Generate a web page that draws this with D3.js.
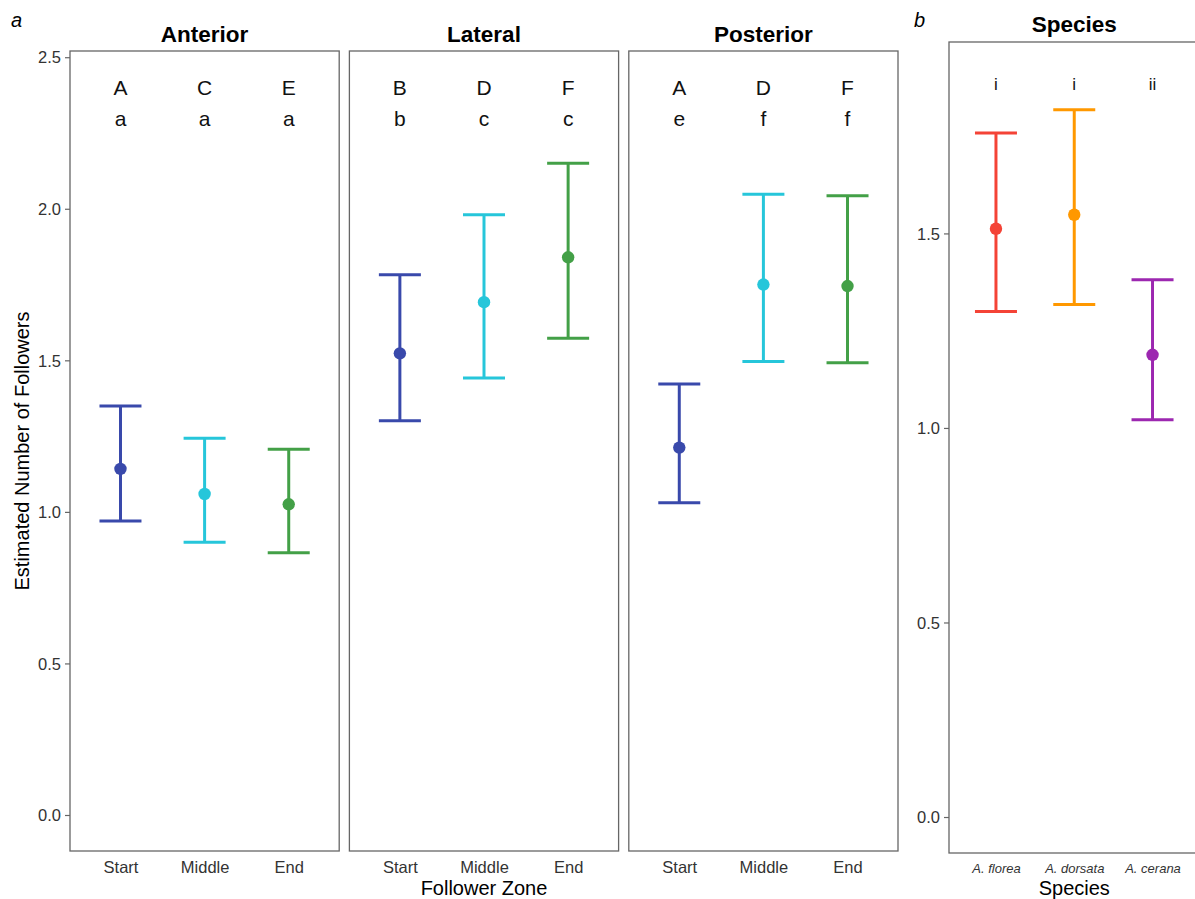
<!DOCTYPE html>
<html><head><meta charset="utf-8">
<script src="https://cdn.jsdelivr.net/npm/d3@7"></script>
<style>body{margin:0;background:#fff;} svg{display:block;font-family:"Liberation Sans",Arial,sans-serif;}</style>
</head><body>
<svg id="chart" width="1195" height="899"></svg>
<script>
// ---- data ----
const regions = ["Anterior", "Lateral", "Posterior"];
const zones = ["Start", "Middle", "End"];
const zoneColors = ["#3949AB", "#26C6DA", "#43A047"];
const estAnterior = [1.142, 1.059, 1.025];
const lowAnterior = [0.970, 0.900, 0.865];
const highAnterior = [1.349, 1.243, 1.207];
const estLateral = [1.523, 1.692, 1.840];
const lowLateral = [1.301, 1.442, 1.573];
const highLateral = [1.782, 1.980, 2.150];
const estPosterior = [1.212, 1.750, 1.745];
const lowPosterior = [1.030, 1.496, 1.492];
const highPosterior = [1.422, 2.048, 2.043];
const upperLetters = [["A","C","E"],["B","D","F"],["A","D","F"]];
const lowerLetters = [["a","a","a"],["b","c","c"],["e","f","f"]];
const yTicksA = [0.0, 0.5, 1.0, 1.5, 2.0, 2.5];

const species = ["A. florea", "A. dorsata", "A. cerana"];
const speciesColors = ["#F44336", "#FF9800", "#9C27B0"];
const estSpecies = [1.512, 1.548, 1.188];
const lowSpecies = [1.299, 1.317, 1.021];
const highSpecies = [1.758, 1.818, 1.381];
const speciesLetters = ["i", "i", "ii"];
const yTicksB = [0.0, 0.5, 1.0, 1.5];

const regionData = [
  {est: estAnterior, low: lowAnterior, high: highAnterior},
  {est: estLateral, low: lowLateral, high: highLateral},
  {est: estPosterior, low: lowPosterior, high: highPosterior}
];

// ---- layout ----
const svg = d3.select("#chart");
const pTop = 51, pBottom = 851;
const panelLeft = 70, panelW = 269.2, gap = 10.2;
const borderCol = "#666";
const tickCol = "#333";

const yA = d3.scaleLinear().domain([-0.1188, 2.5205]).range([pBottom, pTop]);

function drawErrorBar(g, x, y, lo, hi, est, col) {
  const capHalf = 21;
  g.append("line").attr("x1", x).attr("x2", x).attr("y1", y(hi)).attr("y2", y(lo))
    .attr("stroke", col).attr("stroke-width", 3);
  [lo, hi].forEach(v => g.append("line").attr("x1", x - capHalf).attr("x2", x + capHalf)
    .attr("y1", y(v)).attr("y2", y(v)).attr("stroke", col).attr("stroke-width", 3));
  g.append("circle").attr("cx", x).attr("cy", y(est)).attr("r", 6.2).attr("fill", col);
}

regions.forEach((reg, i) => {
  const x0 = panelLeft + i * (panelW + gap), x1 = x0 + panelW;
  const x = d3.scalePoint().domain(zones).range([x0, x1]).padding(0.6);
  const g = svg.append("g");
  g.append("text").attr("x", (x0 + x1) / 2).attr("y", 41.5).attr("text-anchor", "middle")
    .attr("font-size", 22.5).attr("font-weight", "bold").attr("fill", "#000").text(reg);
  zones.forEach((z, j) => {
    g.append("text").attr("x", x(z)).attr("y", yA(2.4) + 7.6).attr("text-anchor", "middle")
      .attr("font-size", 21).attr("fill", "#111").text(upperLetters[i][j]);
    g.append("text").attr("x", x(z)).attr("y", yA(2.3) + 8).attr("text-anchor", "middle")
      .attr("font-size", 21).attr("fill", "#111").text(lowerLetters[i][j]);
  });
  const d = regionData[i];
  zones.forEach((z, j) => drawErrorBar(g, x(z), yA, d.low[j], d.high[j], d.est[j], zoneColors[j]));
  g.append("rect").attr("x", x0).attr("y", pTop).attr("width", panelW).attr("height", pBottom - pTop)
    .attr("fill", "none").attr("stroke", borderCol).attr("stroke-width", 1.3);
  const xa = g.append("g").attr("transform", `translate(0,${pBottom})`)
    .call(d3.axisBottom(x).tickSize(0).tickPadding(10.5));
  xa.select(".domain").remove();
  xa.selectAll("text").attr("font-size", 16.5).attr("fill", tickCol)
    .attr("font-family", "Liberation Sans, Arial, sans-serif");
});

const ya = svg.append("g").attr("transform", `translate(${panelLeft},0)`)
  .call(d3.axisLeft(yA).tickValues(yTicksA).tickFormat(d3.format(".1f")).tickSize(5).tickPadding(4));
ya.select(".domain").remove();
ya.selectAll("line").attr("stroke", borderCol).attr("stroke-width", 1.2);
ya.selectAll("text").attr("font-size", 16.5).attr("fill", tickCol).attr("dy", "0.35em")
  .attr("font-family", "Liberation Sans, Arial, sans-serif");

svg.append("text").attr("transform", `translate(29,451) rotate(-90)`).attr("text-anchor", "middle")
  .attr("font-size", 20).attr("fill", "#000").text("Estimated Number of Followers");
svg.append("text").attr("x", (panelLeft + panelLeft + 3 * panelW + 2 * gap) / 2).attr("y", 895)
  .attr("text-anchor", "middle").attr("font-size", 20).attr("fill", "#000").text("Follower Zone");
svg.append("text").attr("x", 11).attr("y", 27).attr("font-size", 20).attr("font-style", "italic").text("a");

// ---- panel b ----
const bTop = 42, bBottom = 853, bx0 = 949, bx1 = 1199.5;
const yB = d3.scaleLinear().domain([-0.0925, 1.992]).range([bBottom, bTop]);
const xB = d3.scalePoint().domain(species).range([bx0, bx1]).padding(0.6);
const gb = svg.append("g");
gb.append("text").attr("x", (bx0 + bx1) / 2).attr("y", 31.5).attr("text-anchor", "middle")
  .attr("font-size", 22.5).attr("font-weight", "bold").text("Species");
species.forEach((s, j) => {
  gb.append("text").attr("x", xB(s)).attr("y", yB(1.9) + 12).attr("text-anchor", "middle")
    .attr("font-size", 17).attr("fill", "#111").text(speciesLetters[j]);
  drawErrorBar(gb, xB(s), yB, lowSpecies[j], highSpecies[j], estSpecies[j], speciesColors[j]);
});
gb.append("rect").attr("x", bx0).attr("y", bTop).attr("width", bx1 - bx0).attr("height", bBottom - bTop)
  .attr("fill", "none").attr("stroke", borderCol).attr("stroke-width", 1.3);
const xbA = gb.append("g").attr("transform", `translate(0,${bBottom})`)
  .call(d3.axisBottom(xB).tickSize(0).tickPadding(10.5));
xbA.select(".domain").remove();
xbA.selectAll("text").attr("font-size", 13).attr("font-style", "italic").attr("fill", tickCol)
  .attr("font-family", "Liberation Sans, Arial, sans-serif");
const ybA = gb.append("g").attr("transform", `translate(${bx0},0)`)
  .call(d3.axisLeft(yB).tickValues(yTicksB).tickFormat(d3.format(".1f")).tickSize(5).tickPadding(4));
ybA.select(".domain").remove();
ybA.selectAll("line").attr("stroke", borderCol).attr("stroke-width", 1.2);
ybA.selectAll("text").attr("font-size", 16.5).attr("fill", tickCol).attr("dy", "0.35em")
  .attr("font-family", "Liberation Sans, Arial, sans-serif");
svg.append("text").attr("x", (bx0 + bx1) / 2).attr("y", 894.5).attr("text-anchor", "middle")
  .attr("font-size", 20).text("Species");
svg.append("text").attr("x", 914).attr("y", 27).attr("font-size", 20).attr("font-style", "italic").text("b");
</script>
</body></html>
